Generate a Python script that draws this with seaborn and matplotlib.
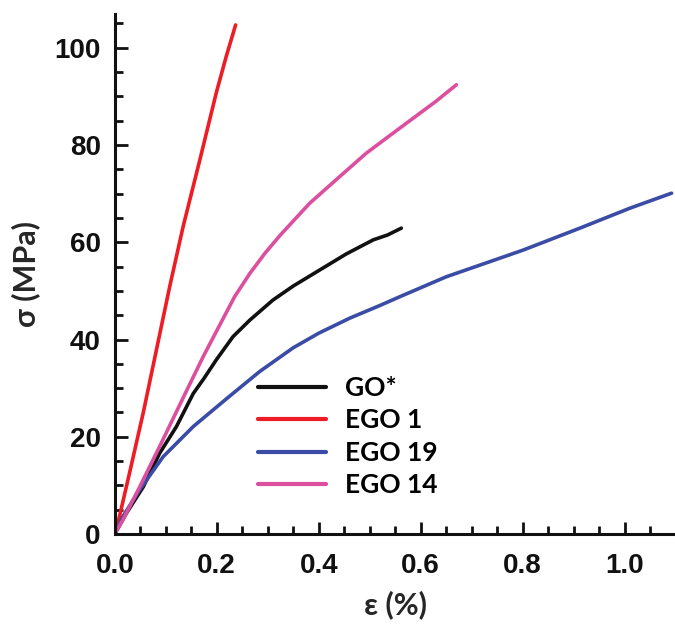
import numpy as np
import pandas as pd
import seaborn as sns
import matplotlib.pyplot as plt
from matplotlib.ticker import MultipleLocator

# ---- data ----
go_x = [0.0, 0.023, 0.056, 0.088, 0.121, 0.154, 0.175, 0.199, 0.232, 0.265, 0.31, 0.35, 0.402, 0.454, 0.507, 0.535, 0.562]
go_y = [0.0, 4.3, 9.7, 16.6, 22.1, 28.9, 32.0, 35.8, 40.6, 44.0, 48.1, 51.0, 54.3, 57.6, 60.5, 61.5, 62.9]

ego1_x = [0.0, 0.003, 0.030, 0.056, 0.082, 0.108, 0.134, 0.167, 0.199, 0.218, 0.237]
ego1_y = [0.0, 0.8, 13.0, 25.0, 38.0, 51.0, 63.2, 77.0, 90.7, 98.0, 104.7]

ego19_x = [0.0, 0.016, 0.049, 0.095, 0.154, 0.219, 0.284, 0.35, 0.40, 0.461, 0.52, 0.559, 0.65, 0.716, 0.801, 0.912, 1.01, 1.092]
ego19_y = [0.0, 3.6, 9.1, 15.9, 22.1, 27.8, 33.4, 38.3, 41.3, 44.4, 47.0, 48.8, 52.9, 55.3, 58.4, 62.9, 67.0, 70.1]

ego14_x = [0.0, 0.016, 0.049, 0.088, 0.141, 0.175, 0.206, 0.235, 0.265, 0.295, 0.324, 0.382, 0.441, 0.493, 0.540, 0.585, 0.630, 0.670]
ego14_y = [0.0, 2.9, 9.7, 18.0, 29.5, 36.8, 43.0, 48.8, 53.6, 57.8, 61.4, 68.0, 73.5, 78.3, 82.0, 85.5, 89.0, 92.4]

labels = ["GO*", "EGO 1", "EGO 19", "EGO 14"]
colors = ["#111111", "#ee1c25", "#3a4ca5", "#dc4f9f"]

frames = []
for lab, xs, ys in zip(labels, [go_x, ego1_x, ego19_x, ego14_x], [go_y, ego1_y, ego19_y, ego14_y]):
    frames.append(pd.DataFrame({"strain": xs, "stress": ys, "sample": lab}))
df = pd.concat(frames, ignore_index=True)

# ---- plot ----
sns.set_theme(style="ticks")
plt.rcParams["font.family"] = ["Liberation Sans Narrow", "Liberation Sans", "DejaVu Sans"]

fig = plt.figure(figsize=(6.75, 6.26), dpi=100)
ax = fig.add_axes([0.170, 0.147, 0.831, 0.831])

sns.lineplot(data=df, x="strain", y="stress", hue="sample", hue_order=labels,
             palette=colors, sort=False, estimator=None, linewidth=2.6, ax=ax,
             legend=True)
for ln in ax.get_lines():
    ln.set_solid_joinstyle("round")
    ln.set_solid_capstyle("round")

ax.set_xlim(0, 1.1)
ax.set_ylim(0, 107)
ax.xaxis.set_major_locator(MultipleLocator(0.2))
ax.xaxis.set_minor_locator(MultipleLocator(0.05))
ax.yaxis.set_major_locator(MultipleLocator(20))
ax.yaxis.set_minor_locator(MultipleLocator(5))
ax.xaxis.set_major_formatter(plt.FuncFormatter(lambda v, p: f"{v:.1f}"))

sns.despine(ax=ax)
for s in ["left", "bottom"]:
    ax.spines[s].set_linewidth(2.2)
    ax.spines[s].set_color("#111111")

ax.tick_params(which="major", direction="in", length=9, width=2.0, color="#111111",
               labelsize=20, pad=10)
ax.tick_params(which="minor", direction="in", length=5.5, width=2.0, color="#111111")
ax.tick_params(axis="x", which="major", pad=14)
for lbl in ax.get_xticklabels() + ax.get_yticklabels():
    lbl.set_fontweight("bold")
    lbl.set_color("#111111")

ax.set_xlabel("ε (%)", fontsize=22, fontweight="bold", family=["Lato", "DejaVu Sans"], labelpad=8)
ax.set_ylabel("σ (MPa)", fontsize=22, fontweight="bold", family=["Lato", "DejaVu Sans"], labelpad=10)

handles, labs = ax.get_legend_handles_labels()
for h in handles:
    h.set_linewidth(3.0)
leg = ax.legend(handles, labs, loc="center left", bbox_to_anchor=(0.255, 0.187),
                frameon=False, borderpad=0, borderaxespad=0, handlelength=2.6,
                handletextpad=0.7, labelspacing=0.32,
                prop={"family": ["Lato", "DejaVu Sans"], "weight": "bold", "size": 19})
for t in leg.get_texts():
    t.set_color("#000000")

fig.savefig("out.png", dpi=100)
